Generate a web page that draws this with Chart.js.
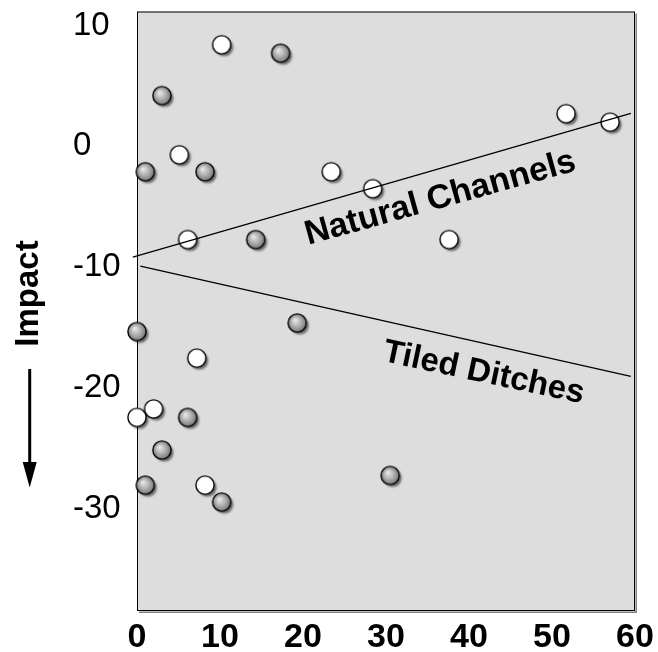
<!DOCTYPE html>
<html>
<head>
<meta charset="utf-8">
<script src="https://cdn.jsdelivr.net/npm/chart.js@4.4.1/dist/chart.umd.min.js"></script>
<style>
  html, body { margin: 0; padding: 0; background: #ffffff; }
  #wrap { width: 658px; height: 652px; }
</style>
</head>
<body>
<div id="wrap"><canvas id="c" width="658" height="652"></canvas></div>
<script>
// ---- data ----
const grayX  = [1.0, 3.0, 8.2, 17.3, 14.3, 0.0, 19.3, 6.1, 3.0, 1.0, 10.2, 30.5];
const grayY  = [-2.1, 4.2, -2.1, 7.7, -7.7, -15.3, -14.6, -22.4, -25.1, -28.0, -29.4, -27.2];
const whiteX = [10.2, 5.1, 6.1, 23.4, 28.4, 37.6, 51.7, 57.0, 7.2, 2.0, 0.0, 8.2];
const whiteY = [8.4, -0.7, -7.7, -2.1, -3.5, -7.7, 2.7, 2.0, -17.5, -21.7, -22.4, -28.0];
const naturalX = [-0.5, 59.5];
const naturalY = [-9.16, 2.74];
const tiledX = [0.4, 59.5];
const tiledY = [-9.9, -19.0];
const xTicks = [0, 10, 20, 30, 40, 50, 60];
const yTicks = [-30, -20, -10, 0, 10];
const lineNames = ['Natural Channels', 'Tiled Ditches'];
const yTitle = 'Impact';

const FONT = '"Liberation Sans", Arial, Helvetica, sans-serif';
const toPts = (xs, ys) => xs.map((v, i) => ({ x: v, y: ys[i] }));

// annotation placement (data coordinates), angle and size
const labelPlace = [
  { text: lineNames[0], x: 36.55, y: -4.3, angle: -15.5, size: 34 },
  { text: lineNames[1], x: 41.77, y: -18.75, angle: 12, size: 33 }
];

function makeBall(kind) {
  const S = 36, c = document.createElement('canvas');
  c.width = S; c.height = S;
  const g = c.getContext('2d');
  const cx = S / 2, cy = S / 2, r = 9.1;
  g.save();
  g.shadowColor = 'rgba(0,0,0,0.5)';
  g.shadowBlur = 2;
  g.shadowOffsetX = 2.5;
  g.shadowOffsetY = 2.5;
  g.beginPath(); g.arc(cx, cy, r, 0, Math.PI * 2);
  g.fillStyle = '#ffffff'; g.fill();
  g.restore();
  let fill = '#ffffff';
  if (kind === 'gray') {
    fill = g.createRadialGradient(cx - 2.5, cy - 3, 0.5, cx, cy, r + 0.5);
    fill.addColorStop(0, '#e8e8e8');
    fill.addColorStop(0.55, '#ababab');
    fill.addColorStop(1, '#707070');
  }
  g.beginPath(); g.arc(cx, cy, r, 0, Math.PI * 2);
  g.fillStyle = fill; g.fill();
  g.lineWidth = 1.4; g.strokeStyle = '#000'; g.stroke();
  return c;
}
const grayBall = makeBall('gray');
const whiteBall = makeBall('white');

const framePlugin = {
  id: 'frame',
  beforeDatasetsDraw(chart) {
    const { ctx, chartArea: a } = chart;
    ctx.save();
    ctx.fillStyle = '#dddddd';
    ctx.fillRect(a.left, a.top, a.right - a.left, a.bottom - a.top);
    ctx.strokeStyle = '#808080';
    ctx.lineWidth = 1.5;
    ctx.beginPath();
    ctx.moveTo(a.right + 1.2, a.top + 2);
    ctx.lineTo(a.right + 1.2, a.bottom + 1.2);
    ctx.lineTo(a.left + 2, a.bottom + 1.2);
    ctx.stroke();
    ctx.strokeStyle = '#000';
    ctx.lineWidth = 1;
    ctx.strokeRect(a.left + 0.5, a.top + 0.5, a.right - a.left - 1, a.bottom - a.top - 1);
    ctx.restore();
  },
  afterDatasetsDraw(chart) {
    const { ctx, scales: { x, y } } = chart;
    ctx.save();
    ctx.fillStyle = '#000';
    ctx.textAlign = 'center';
    ctx.textBaseline = 'middle';
    labelPlace.forEach(l => {
      ctx.save();
      ctx.font = 'bold ' + l.size + 'px ' + FONT;
      ctx.translate(x.getPixelForValue(l.x), y.getPixelForValue(l.y));
      ctx.rotate(l.angle * Math.PI / 180);
      ctx.fillText(l.text, 0, 0);
      ctx.restore();
    });
    ctx.restore();
  },
  afterDraw(chart) {
    const { ctx } = chart;
    ctx.save();
    ctx.fillStyle = '#000';
    ctx.font = 'bold 33px ' + FONT;
    ctx.textAlign = 'center';
    ctx.textBaseline = 'alphabetic';
    ctx.translate(38, 293.5);
    ctx.rotate(-Math.PI / 2);
    ctx.fillText(yTitle, 0, 0);
    ctx.restore();
    // arrow
    ctx.save();
    ctx.strokeStyle = '#000';
    ctx.lineWidth = 3;
    ctx.beginPath();
    ctx.moveTo(29.7, 369);
    ctx.lineTo(29.7, 466);
    ctx.stroke();
    ctx.fillStyle = '#000';
    ctx.beginPath();
    ctx.moveTo(22.7, 462);
    ctx.lineTo(36.7, 462);
    ctx.lineTo(29.7, 487.5);
    ctx.closePath();
    ctx.fill();
    ctx.restore();
  }
};

new Chart(document.getElementById('c'), {
  type: 'scatter',
  data: {
    datasets: [
      {
        label: lineNames[0], type: 'line', data: toPts(naturalX, naturalY),
        borderColor: '#000', borderWidth: 1.3, pointRadius: 0, fill: false,
        tension: 0, clip: false, order: 0
      },
      {
        label: lineNames[1], type: 'line', data: toPts(tiledX, tiledY),
        borderColor: '#000', borderWidth: 1.3, pointRadius: 0, fill: false,
        tension: 0, clip: false, order: 0
      },
      {
        label: 'gray', data: toPts(grayX, grayY), pointStyle: grayBall,
        pointRadius: 9, clip: false, order: 1
      },
      {
        label: 'white', data: toPts(whiteX, whiteY), pointStyle: whiteBall,
        pointRadius: 9, clip: false, order: 2
      }
    ]
  },
  options: {
    responsive: false,
    maintainAspectRatio: false,
    animation: false,
    devicePixelRatio: 1,
    layout: { padding: { left: 73, right: 23, top: 11.5, bottom: 0 } },
    plugins: { legend: { display: false }, tooltip: { enabled: false } },
    scales: {
      x: {
        type: 'linear', min: 0, max: 60,
        grid: { display: false, drawTicks: false },
        border: { display: false },
        afterBuildTicks: s => { s.ticks = xTicks.map(v => ({ value: v })); },
        afterFit: s => { s.height = 41; s.paddingLeft = 0; s.paddingRight = 0; },
        ticks: {
          padding: 6, color: '#000', maxRotation: 0, autoSkip: false,
          font: { family: FONT, size: 34, weight: 'bold' },
          callback: v => String(v)
        }
      },
      y: {
        type: 'linear', min: -38.4, max: 11.15,
        grid: { display: false, drawTicks: false },
        border: { display: false },
        afterBuildTicks: s => { s.ticks = yTicks.map(v => ({ value: v })); },
        afterFit: s => { s.width = 64; s.paddingTop = 0; s.paddingBottom = 0; },
        ticks: {
          crossAlign: 'far', color: '#000', autoSkip: false,
          font: { family: FONT, size: 33, weight: 'normal' },
          callback: v => String(v)
        }
      }
    }
  },
  plugins: [framePlugin]
});
</script>
</body>
</html>
